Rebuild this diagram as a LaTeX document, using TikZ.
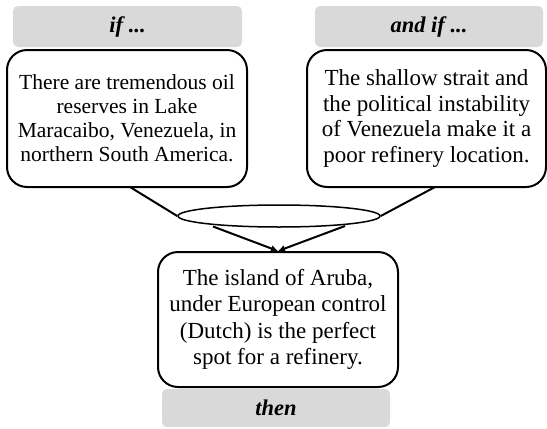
\documentclass[tikz,border=0pt]{standalone}
\usepackage{fontspec}
\setmainfont{Liberation Serif}
\usetikzlibrary{shapes.geometric,arrows.meta}
\definecolor{labelgray}{HTML}{D9D9D9}
\begin{document}
\begin{tikzpicture}[x=1pt,y=-1pt,
  txtbox/.style={draw,line width=2pt,rounded corners=20pt,fill=white,align=center,
     inner sep=0pt,font=\fontsize{21.5}{24}\selectfont},
  lblbox/.style={fill=labelgray,rounded corners=5pt,inner sep=0pt,
     font=\fontsize{22.5}{24}\selectfont\bfseries\itshape},
  conn/.style={line width=2pt},
  arr/.style={line width=2pt,-{Latex[length=7pt,width=7pt]}}]
\useasboundingbox (0,0) rectangle (547,429);
\node[lblbox,minimum width=229pt,minimum height=41pt] (lif) at (127.5,26.5) {if ...};
\node[lblbox,minimum width=228pt,minimum height=41pt] (landif) at (429,26.5) {and if ...};
\node[lblbox,minimum width=228pt,minimum height=38pt] (lthen) at (276,408) {then};
\node[txtbox,minimum width=240pt,minimum height=137pt] (left) at (127,118.5)
  {There are tremendous oil\\reserves in Lake\\Maracaibo, Venezuela, in\\northern South America.};
\node[txtbox,minimum width=239pt,minimum height=137pt,font=\fontsize{23}{25.5}\selectfont] (right) at (426.5,118.5)
  {The shallow strait and\\the political instability\\of Venezuela make it a\\poor refinery location.};
\node[txtbox,minimum width=240pt,minimum height=135pt,font=\fontsize{23}{26.5}\selectfont] (bottom) at (278,319.5)
  {The island of Aruba,\\under European control\\(Dutch) is the perfect\\spot for a refinery.};
\coordinate (lstart) at (130,187);
\coordinate (rstart) at (435,187);
\coordinate (ebl) at (213,226.5);
\coordinate (ebr) at (345,226);
\node[draw,ellipse,line width=1.5pt,fill=white,minimum width=202pt,minimum height=22pt,inner sep=0pt] (ell) at (279,216) {};
\draw[conn] (lstart) -- (ell.west);
\draw[conn] (rstart) -- (ell.east);
\draw[arr] (ebl) -- (bottom.north);
\draw[arr] (ebr) -- (bottom.north);
\end{tikzpicture}
\end{document}
